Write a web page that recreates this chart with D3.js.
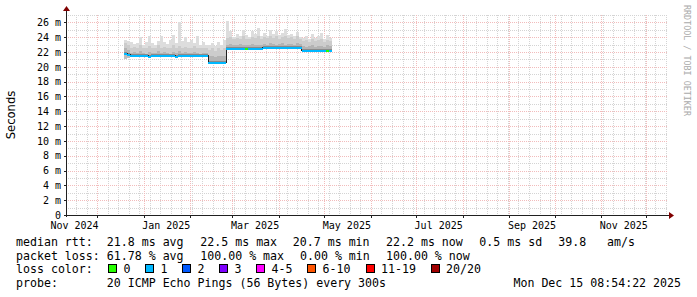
<!DOCTYPE html>
<html>
<head>
<meta charset="utf-8">
<script src="https://cdn.jsdelivr.net/npm/d3@7"></script>
<style>
  body { margin: 0; background: #fff; }
  svg { display: block; }
  text { font-family: "DejaVu Sans Mono", monospace; fill: #000; }
</style>
</head>
<body>
<svg id="chart" width="697" height="297"></svg>
<script>
// time window of the graph (last 400 days)
const endTime = new Date(Date.UTC(2025, 11, 15, 8, 54, 22));
const startTime = new Date(endTime.getTime() - 400 * 864e5);

// rrd rows: one every 2 days starting here
const dataStart = new Date(Date.UTC(2024, 11, 19));
const stepDays = 2;

// median rtt, ms
const median = [
  21.85, 21.7,
  21.5, 21.5, 21.5, 21.55, 21.5, 21.5, 21.45, 21.5, 21.5, 21.5, 21.55, 21.5, 21.5,
  21.5, 21.5, 21.45, 21.5, 21.5, 21.5, 21.5, 21.55, 21.5, 21.5, 21.5, 21.5, 21.5,
  20.6, 20.6, 20.6, 20.6, 20.6, 20.6,
  22.45, 22.45, 22.45, 22.45, 22.45, 22.45, 22.45, 22.45, 22.45, 22.45, 22.45, 22.45,
  22.55, 22.55, 22.55, 22.55, 22.55, 22.55, 22.55, 22.55, 22.55, 22.55, 22.55, 22.55, 22.55,
  22.2, 22.2, 22.2, 22.2, 22.2, 22.2, 22.2, 22.2, 22.2, 22.2
];
// lost pings out of 20
const loss = [
  1, 1,
  1, 1, 1, 1, 1, 1, 1, 1, 1, 1, 1, 1, 1, 1, 1, 1, 1, 1, 1, 1, 1, 1, 1, 1, 1, 1,
  1, 1, 1, 1, 1, 1,
  1, 1, 1, 1, 1, 1, 0, 1, 1, 1, 1, 1,
  1, 1, 1, 1, 1, 1, 1, 1, 1, 1, 1, 1, 1,
  1, 1, 1, 1, 1, 1, 1, 1, 0, 1
];
// smoke: lowest ping, 70th and 90th percentile, highest ping (ms)
const smokeMin = [
  21.1, 21.2,
  21.3, 21.3, 21.3, 21.3, 21.3, 21.3, 21.25, 21.3, 21.3, 21.3, 21.3, 21.3, 21.3,
  21.3, 21.3, 21.25, 21.3, 21.3, 21.3, 21.3, 21.3, 21.3, 21.3, 21.3, 21.3, 21.3,
  20.4, 20.4, 20.4, 20.4, 20.4, 20.4,
  22.25, 22.25, 22.25, 22.25, 22.25, 22.25, 22.25, 22.25, 22.25, 22.25, 22.25, 22.25,
  22.35, 22.35, 22.35, 22.35, 22.35, 22.35, 22.35, 22.35, 22.35, 22.35, 22.35, 22.35, 22.35,
  22.0, 22.0, 22.0, 22.0, 22.0, 22.0, 22.0, 22.0, 22.0, 22.0
];
const smokeP70 = [
  22.6, 22.3,
  21.9, 22.0, 21.9, 22.1, 21.9, 21.8, 22.0, 21.9, 21.9, 22.1, 21.9, 22.0, 21.9,
  21.8, 22.0, 21.9, 22.1, 21.9, 22.0, 21.9, 21.9, 22.0, 21.9, 21.8, 21.9, 21.9,
  21.4, 21.5, 21.3, 21.5, 21.4, 21.5,
  23.0, 23.1, 22.9, 23.0, 23.1, 23.0, 22.9, 23.0, 23.1, 23.0, 22.9, 23.0,
  23.1, 23.0, 23.2, 23.1, 23.0, 23.1, 23.2, 23.0, 23.1, 23.1, 23.0, 23.2, 23.1,
  22.8, 22.7, 22.8, 22.9, 22.7, 22.8, 22.8, 22.7, 22.9, 22.8
];
const smokeP90 = [
  23.2, 23.0,
  22.6, 22.7, 22.5, 22.9, 22.6, 22.5, 22.8, 22.6, 22.5, 22.9, 22.6, 22.7, 22.5,
  22.6, 22.9, 22.5, 22.8, 22.6, 22.7, 22.5, 22.6, 22.8, 22.5, 22.5, 22.6, 22.5,
  22.3, 22.5, 22.2, 22.6, 22.3, 22.5,
  23.9, 24.0, 23.7, 23.9, 23.8, 24.1, 23.8, 23.7, 24.0, 23.9, 24.1, 23.8,
  24.0, 23.9, 24.2, 23.9, 24.1, 23.8, 24.0, 24.2, 23.9, 24.0, 23.8, 24.1, 23.7,
  23.5, 23.6, 23.4, 23.7, 23.5, 23.6, 23.8, 23.4, 23.6, 23.5
];
const smokeMax = [
  23.6, 23.5,
  23.3, 23.1, 23.2, 24.0, 23.0, 23.3, 24.1, 23.2, 23.0, 23.5, 24.2, 23.4, 23.1,
  23.6, 24.3, 23.2, 26.1, 23.5, 24.0, 23.3, 23.6, 23.2, 24.1, 23.0, 23.4, 23.0,
  22.9, 23.2, 22.8, 23.4, 23.0, 23.6,
  26.2, 24.8, 24.0, 24.5, 24.2, 25.0, 24.3, 24.0, 24.8, 24.4, 25.2, 24.1,
  24.6, 24.2, 25.0, 24.4, 24.9, 24.3, 24.6, 25.1, 24.3, 24.5, 24.2, 24.7, 24.0,
  23.9, 24.2, 23.8, 24.4, 23.9, 24.1, 24.6, 23.8, 24.3, 23.9
];

const yMax = 27;
const yMajor = [0, 2, 4, 6, 8, 10, 12, 14, 16, 18, 20, 22, 24, 26];
const xLabels = ["Nov 2024", "Jan 2025", "Mar 2025", "May 2025", "Jul 2025", "Sep 2025", "Nov 2025"];

// loss colour legend
const lossNames = ["0", "1", "2", "3", "4-5", "6-10", "11-19", "20/20"];
const lossMax = [0, 1, 2, 3, 5, 10, 19, 20];
const lossColors = ["#26ff00", "#00b8ff", "#0059ff", "#7e00ff", "#ff00ff", "#ff5500", "#ff0000", "#a00000"];

const svg = d3.select("#chart");
const plotLeft = 66, plotRight = 668, plotTop = 15, plotBottom = 215;

const x = d3.scaleUtc().domain([startTime, endTime]).range([plotLeft, plotRight]);
const y = d3.scaleLinear().domain([0, yMax]).range([plotBottom, plotTop]);

const rows = median.map((m, i) => ({
  t: d3.utcDay.offset(dataStart, i * stepDays),
  median: m, loss: loss[i],
  min: smokeMin[i], p70: smokeP70[i], p90: smokeP90[i], max: smokeMax[i]
}));
// closing row so the last step gets its width
const rowsStep = rows.concat([Object.assign({}, rows[rows.length - 1],
  { t: d3.utcDay.offset(dataStart, rows.length * stepDays) })]);

// ---- grid ----
const grid = svg.append("g").attr("shape-rendering", "crispEdges");
const minorX = d3.utcSunday.range(startTime, endTime);
const majorX = d3.utcMonth.range(startTime, endTime);
const majorXSet = new Set(majorX.map(d => +d3.utcDay.floor(d)));

grid.selectAll(".vminor").data(minorX.filter(d => !majorXSet.has(+d)))
  .enter().append("line")
  .attr("x1", d => Math.round(x(d)) + 0.5).attr("x2", d => Math.round(x(d)) + 0.5)
  .attr("y1", plotTop).attr("y2", plotBottom)
  .attr("stroke", "#d4d4d4").attr("stroke-dasharray", "1,1");

const hMinor = d3.range(1, yMax + 1).filter(v => v % 2 !== 0);
grid.selectAll(".hminor").data(hMinor)
  .enter().append("line")
  .attr("x1", plotLeft).attr("x2", plotRight)
  .attr("y1", d => Math.round(y(d)) + 0.5).attr("y2", d => Math.round(y(d)) + 0.5)
  .attr("stroke", "#d4d4d4").attr("stroke-dasharray", "1,1");

grid.selectAll(".vmajor").data(majorX)
  .enter().append("line")
  .attr("x1", d => Math.round(x(d)) + 0.5).attr("x2", d => Math.round(x(d)) + 0.5)
  .attr("y1", plotTop).attr("y2", plotBottom)
  .attr("stroke", "#f2bcbc").attr("stroke-dasharray", "1,1");

grid.selectAll(".hmajor").data(yMajor.filter(v => v > 0))
  .enter().append("line")
  .attr("x1", plotLeft).attr("x2", plotRight)
  .attr("y1", d => Math.round(y(d)) + 0.5).attr("y2", d => Math.round(y(d)) + 0.5)
  .attr("stroke", "#f2bcbc").attr("stroke-dasharray", "1,1");

// ---- smoke ----
const plot = svg.append("g").attr("shape-rendering", "crispEdges");
const band = (lo, hi, color) => plot.append("path")
  .datum(rowsStep)
  .attr("fill", color)
  .attr("d", d3.area().curve(d3.curveStepAfter)
    .x(d => x(d.t)).y0(d => y(d[lo])).y1(d => y(d[hi])));

band("p90", "max", "#dddddd");
band("p70", "p90", "#cccccc");
band("median", "p70", "#b4b4b4");
band("min", "median", "#bdbdbd");

// thin dark band right above the median
plot.append("path").datum(rowsStep)
  .attr("fill", "#8a8a8a")
  .attr("d", d3.area().curve(d3.curveStepAfter)
    .x(d => x(d.t)).y0(d => y(d.median)).y1(d => y(d.median) - 1.5));

// median: black step line, coloured by loss on top
plot.append("path").datum(rowsStep)
  .attr("fill", "none").attr("stroke", "#202020").attr("stroke-width", 1)
  .attr("d", d3.line().curve(d3.curveStepAfter).x(d => x(d.t)).y(d => y(d.median)));

const lossIdx = l => lossMax.findIndex(m => l <= m);
rows.forEach(r => {
  const t2 = d3.utcDay.offset(r.t, stepDays);
  plot.append("line")
    .attr("x1", x(r.t)).attr("x2", x(t2))
    .attr("y1", y(r.median) + 0.5).attr("y2", y(r.median) + 0.5)
    .attr("stroke", lossColors[lossIdx(r.loss)]).attr("stroke-width", 2);
});

// ---- axes ----
const axisColor = "#202020", arrowColor = "#800000";
const ax = svg.append("g").attr("shape-rendering", "crispEdges");
ax.append("line").attr("x1", plotLeft - 2).attr("x2", plotRight + 2)
  .attr("y1", plotBottom + 0.5).attr("y2", plotBottom + 0.5).attr("stroke", axisColor);
ax.append("line").attr("x1", plotLeft + 0.5).attr("x2", plotLeft + 0.5)
  .attr("y1", plotBottom + 2).attr("y2", plotTop - 4).attr("stroke", axisColor);

// tick marks
ax.selectAll(".ytick").data(yMajor).enter().append("line")
  .attr("x1", plotLeft - 2).attr("x2", plotLeft)
  .attr("y1", d => Math.round(y(d)) + 0.5).attr("y2", d => Math.round(y(d)) + 0.5)
  .attr("stroke", axisColor);
ax.selectAll(".xtick").data(majorX).enter().append("line")
  .attr("x1", d => Math.round(x(d)) + 0.5).attr("x2", d => Math.round(x(d)) + 0.5)
  .attr("y1", plotBottom + 1).attr("y2", plotBottom + 3)
  .attr("stroke", axisColor);

svg.append("path")
  .attr("d", `M${plotRight + 1},${plotBottom - 3} L${plotRight + 6},${plotBottom + 0.5} L${plotRight + 1},${plotBottom + 4} Z`)
  .attr("fill", arrowColor);
svg.append("path")
  .attr("d", `M${plotLeft - 3},${plotTop - 4} L${plotLeft + 0.5},${plotTop - 9} L${plotLeft + 4},${plotTop - 4} Z`)
  .attr("fill", arrowColor);

// y labels
svg.append("g").selectAll("text").data(yMajor).enter().append("text")
  .attr("x", 61).attr("y", d => y(d)).attr("dy", "0.37em")
  .attr("text-anchor", "end").style("font-size", "10px")
  .text(d => d === 0 ? "0" : d + " m");

// x labels: rrdtool centres the month label half a month after the tick
const labelTicks = d3.utcMonth.every(2).range(d3.utcMonth.floor(startTime), endTime);
svg.append("g").selectAll("text").data(labelTicks).enter().append("text")
  .attr("x", d => x(d3.utcDay.offset(d, 15)))
  .attr("y", 228.5).attr("text-anchor", "middle").style("font-size", "10px")
  .text((d, i) => xLabels[i]);

svg.append("text")
  .attr("transform", "translate(15,115) rotate(-90)")
  .attr("text-anchor", "middle")
  .style("font-family", "'DejaVu Sans', sans-serif").style("font-size", "11.6px")
  .text("Seconds");

svg.append("text")
  .attr("transform", "translate(684,5) rotate(90)")
  .style("font-size", "8.4px").style("fill", "#aaaaaa")
  .text("RRDTOOL / TOBI OETIKER");

// ---- legend ----
const leg = svg.append("g").style("font-size", "11.6px");
const legendRows = [
  [246, [[16, "median rtt:"], [106.8, "21.8 ms avg"], [200.3, "22.5 ms max"], [292.8, "20.7 ms min"],
         [386, "22.2 ms now"], [479.3, "0.5 ms sd"], [558.3, "39.8"], [607, "am/s"]]],
  [259.5, [[16, "packet loss:"], [106.8, "61.78 % avg"], [200.3, "100.00 % max"], [300, "0.00 % min"],
           [386, "100.00 % now"]]],
  [273, [[16, "loss color:"]]],
  [286.8, [[16, "probe:"], [106.8, "20 ICMP Echo Pings (56 Bytes) every 300s"]]]
];
legendRows.forEach(([by, items]) => {
  items.forEach(([lx, s]) => leg.append("text").attr("x", lx).attr("y", by).text(s));
});
leg.append("text").attr("x", 681).attr("y", 286.8).attr("text-anchor", "end")
  .text("Mon Dec 15 08:54:22 2025");

const boxX = [108.5, 145.5, 182.5, 219.5, 256.5, 307.5, 366, 431];
lossNames.forEach((name, i) => {
  leg.append("rect").attr("x", boxX[i]).attr("y", 264.5).attr("width", 8).attr("height", 8)
    .attr("fill", lossColors[i]).attr("stroke", "#000").attr("shape-rendering", "crispEdges");
  leg.append("text").attr("x", boxX[i] + 15).attr("y", 273).text(name);
});
</script>
</body>
</html>
